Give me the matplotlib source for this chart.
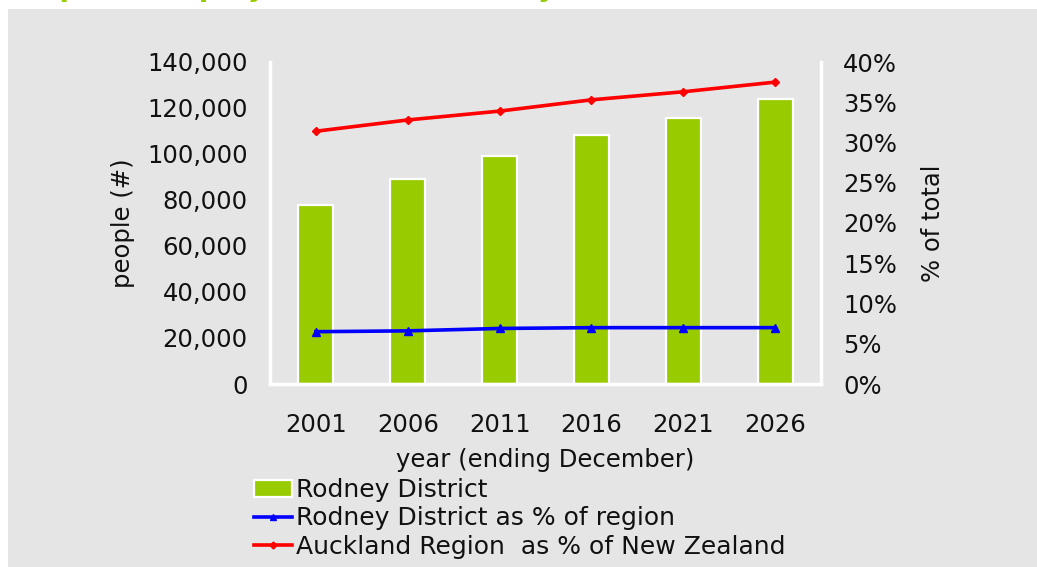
import numpy as np
import matplotlib
matplotlib.use('Agg')
import matplotlib.pyplot as plt
from matplotlib.patches import Rectangle
from matplotlib.lines import Line2D
from matplotlib.ticker import FuncFormatter, MultipleLocator

# Data
years = ['2001', '2006', '2011', '2016', '2021', '2026']
rodney_pop = [77800, 89100, 99100, 108300, 115700, 123900]
rodney_share = [6.5, 6.6, 6.9, 7.0, 7.0, 7.0]          # % of region
auckland_share = [31.4, 32.8, 33.9, 35.3, 36.3, 37.5]   # % of New Zealand

green = '#99CC00'
bg = '#E5E5E5'
fs = 17.5

plt.rcParams['font.family'] = 'DejaVu Sans'

fig = plt.figure(figsize=(10.37, 5.67), dpi=100)
W, H = 1037.0, 567.0

# grey panel behind the chart, white strip on top/left
fig.patches.append(Rectangle((8 / W, 0), 1, (H - 9) / H, transform=fig.transFigure,
                             facecolor=bg, edgecolor='none', zorder=-10))

# title, mostly cut off by the top edge in the reference
fig.text(20 / W, 1 + 3.6 / H, 'Population projections for Rodney District',
         color=green, fontweight='bold', fontsize=20, va='baseline', ha='left')

ax = fig.add_axes([270 / W, 1 - 384 / H, (821 - 270) / W, (384 - 62) / H])
ax.set_facecolor(bg)

x = np.arange(len(years))
ax.bar(x, rodney_pop, width=0.38, color=green, edgecolor='white', linewidth=1.6, zorder=2)
ax.set_xlim(-0.5, len(years) - 0.5)
ax.set_ylim(0, 140000)
ax.yaxis.set_major_locator(MultipleLocator(20000))
ax.yaxis.set_major_formatter(FuncFormatter(lambda v, p: '{:,.0f}'.format(v)))
ax.set_xticks(x)
ax.set_xticklabels(years)

ax2 = ax.twinx()
ax2.plot(x, rodney_share, color='blue', lw=2.6, marker='^', markersize=6, zorder=3)
ax2.plot(x, auckland_share, color='red', lw=2.6, marker='D', markersize=4.5, zorder=3)
ax2.set_ylim(0, 40)
ax2.yaxis.set_major_locator(MultipleLocator(5))
ax2.yaxis.set_major_formatter(FuncFormatter(lambda v, p: '{:.0f}%'.format(v)))

for a in (ax, ax2):
    for s in a.spines.values():
        s.set_visible(False)
    a.tick_params(length=0, labelsize=fs, colors='#111111')
ax.spines['left'].set_visible(True)
ax.spines['bottom'].set_visible(True)
ax2.spines['right'].set_visible(True)
for s in (ax.spines['left'], ax.spines['bottom'], ax2.spines['right']):
    s.set_color('white')
    s.set_linewidth(2.5)

ax.tick_params(axis='y', pad=16)
ax.tick_params(axis='x', pad=21)
ax2.tick_params(axis='y', pad=16)

ax.set_ylabel('people (#)', fontsize=fs, labelpad=9, color='#111111')
ax.set_xlabel('year (ending December)', fontsize=fs, labelpad=8, color='#111111')
ax2.set_ylabel('% of total', fontsize=fs, labelpad=17, color='#111111')

handles = [
    Rectangle((0, 0), 1, 1, facecolor=green, edgecolor='white', linewidth=1.6),
    Line2D([], [], color='blue', lw=2.6, marker='^', markersize=5),
    Line2D([], [], color='red', lw=2.6, marker='D', markersize=3.5),
]
labels = ['Rodney District', 'Rodney District as % of region',
          'Auckland Region  as % of New Zealand']
leg = fig.legend(handles, labels, loc='upper left', bbox_to_anchor=(254 / W, 1 - 478 / H),
                 frameon=False, fontsize=18, handlelength=1.5, handletextpad=0.2,
                 labelspacing=0.18, borderpad=0, borderaxespad=0)
for t in leg.get_texts():
    t.set_color('#111111')

fig.savefig('out.png', dpi=100)
